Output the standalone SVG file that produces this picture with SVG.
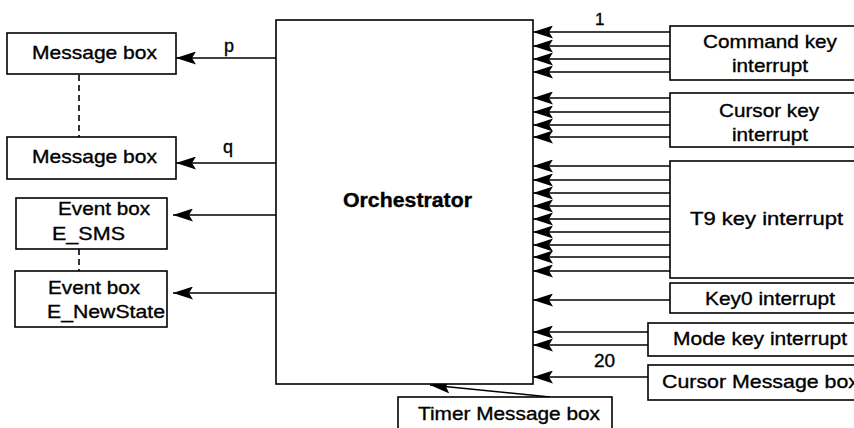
<svg xmlns="http://www.w3.org/2000/svg" width="854" height="428" viewBox="0 0 854 428">
<defs>
<marker id="ah" viewBox="0 0 20 13" refX="20" refY="6.5" markerWidth="20" markerHeight="13" markerUnits="userSpaceOnUse" orient="auto">
<path d="M0,0 L20,6.5 L0,13 L4,6.5 Z" fill="#000"/>
</marker>
<style>
.box{fill:#fff;stroke:#000;stroke-width:1.6}
.t{font-family:"Liberation Sans",Arial,sans-serif;font-size:19px;fill:#000;stroke:#000;stroke-width:0.35}
.c{text-anchor:middle}
.b{font-weight:bold;font-size:20px}
.ln{stroke:#000;stroke-width:1.4;fill:none}
.ar{stroke:#000;stroke-width:1.5;fill:none;marker-end:url(#ah)}
.dash{stroke:#000;stroke-width:1.6;stroke-dasharray:6,4;fill:none}
</style>
</defs>
<rect width="854" height="428" fill="#fff"/>

<g id="connectors">
<line class="ar" x1="670" y1="32" x2="533" y2="32"/>
<line class="ar" x1="670" y1="46" x2="533" y2="46"/>
<line class="ar" x1="670" y1="59" x2="533" y2="59"/>
<line class="ar" x1="670" y1="72" x2="533" y2="72"/>
<line class="ar" x1="670" y1="98" x2="533" y2="98"/>
<line class="ar" x1="670" y1="112" x2="533" y2="112"/>
<line class="ar" x1="670" y1="125" x2="533" y2="125"/>
<line class="ar" x1="670" y1="137" x2="533" y2="137"/>
<line class="ar" x1="670" y1="166" x2="533" y2="166"/>
<line class="ar" x1="670" y1="180" x2="533" y2="180"/>
<line class="ar" x1="670" y1="193" x2="533" y2="193"/>
<line class="ar" x1="670" y1="206" x2="533" y2="206"/>
<line class="ar" x1="670" y1="219" x2="533" y2="219"/>
<line class="ar" x1="670" y1="232" x2="533" y2="232"/>
<line class="ar" x1="670" y1="245" x2="533" y2="245"/>
<line class="ar" x1="670" y1="257" x2="533" y2="257"/>
<line class="ar" x1="670" y1="271" x2="533" y2="271"/>
<line class="ar" x1="670" y1="300" x2="533" y2="300"/>
<line class="ar" x1="648" y1="332" x2="533" y2="332"/>
<line class="ar" x1="648" y1="345" x2="533" y2="345"/>
<line class="ar" x1="648" y1="377" x2="533" y2="377"/>
<line class="ar" x1="276" y1="58" x2="176" y2="58"/>
<line class="ar" x1="276" y1="163" x2="176" y2="163"/>
<line class="ar" x1="276" y1="215" x2="173" y2="215"/>
<line class="ar" x1="276" y1="293" x2="173" y2="293"/>
<line class="ar" x1="550" y1="397" x2="430" y2="385"/>
<line class="dash" x1="79" y1="75" x2="79" y2="137"/>
<line class="dash" x1="79" y1="249" x2="79" y2="271"/>
<text class="t" x="224" y="52" style="font-size:18px">p</text>
<text class="t" x="223" y="153" style="font-size:18px">q</text>
<text class="t" x="595" y="25" style="font-size:17px">1</text>
<text class="t" x="594" y="367">20</text>
</g>

<g id="orchestrator">
<rect class="box" x="276" y="20" width="257" height="364"/>
<text class="t b" x="343" y="207" textLength="129" lengthAdjust="spacingAndGlyphs">Orchestrator</text>
</g>

<g id="msgbox1">
<rect class="box" x="7" y="33" width="169" height="41"/>
<text class="t" x="32" y="59" textLength="125" lengthAdjust="spacingAndGlyphs">Message box</text>
</g>
<g id="msgbox2">
<rect class="box" x="7" y="137" width="169" height="42"/>
<text class="t" x="32" y="163" textLength="125" lengthAdjust="spacingAndGlyphs">Message box</text>
</g>
<g id="eventsms">
<rect class="box" x="16" y="198" width="151" height="51"/>
<text class="t" x="58" y="215" textLength="92" lengthAdjust="spacingAndGlyphs">Event box</text>
<text class="t" x="52" y="240" textLength="73" lengthAdjust="spacingAndGlyphs">E_SMS</text>
</g>
<g id="eventnewstate">
<rect class="box" x="15" y="271" width="152" height="56"/>
<text class="t" x="48" y="294" textLength="92" lengthAdjust="spacingAndGlyphs">Event box</text>
<text class="t" x="47" y="318" textLength="118" lengthAdjust="spacingAndGlyphs">E_NewState</text>
</g>

<g id="commandkey">
<rect class="box" x="670" y="26" width="200" height="54"/>
<text class="t" x="703" y="48" textLength="134" lengthAdjust="spacingAndGlyphs">Command key</text>
<text class="t" x="732" y="72" textLength="76" lengthAdjust="spacingAndGlyphs">interrupt</text>
</g>
<g id="cursorkey">
<rect class="box" x="670" y="93" width="200" height="54"/>
<text class="t" x="719" y="117" textLength="100" lengthAdjust="spacingAndGlyphs">Cursor key</text>
<text class="t" x="732" y="141" textLength="76" lengthAdjust="spacingAndGlyphs">interrupt</text>
</g>
<g id="t9key">
<rect class="box" x="670" y="161" width="200" height="117"/>
<text class="t" x="690" y="225" textLength="153" lengthAdjust="spacingAndGlyphs">T9 key interrupt</text>
</g>
<g id="key0">
<rect class="box" x="670" y="283" width="200" height="30"/>
<text class="t" x="705" y="305" textLength="130" lengthAdjust="spacingAndGlyphs">Key0 interrupt</text>
</g>
<g id="modekey">
<rect class="box" x="648" y="323" width="220" height="33"/>
<text class="t" x="673" y="345" textLength="174" lengthAdjust="spacingAndGlyphs">Mode key interrupt</text>
</g>
<g id="cursormsg">
<rect class="box" x="648" y="365" width="220" height="35"/>
<text class="t" x="662" y="388" textLength="197" lengthAdjust="spacingAndGlyphs">Cursor Message box</text>
</g>
<g id="timermsg">
<rect class="box" x="398" y="397" width="214" height="40"/>
<text class="t" x="418" y="420" textLength="182" lengthAdjust="spacingAndGlyphs">Timer Message box</text>
</g>
</svg>
